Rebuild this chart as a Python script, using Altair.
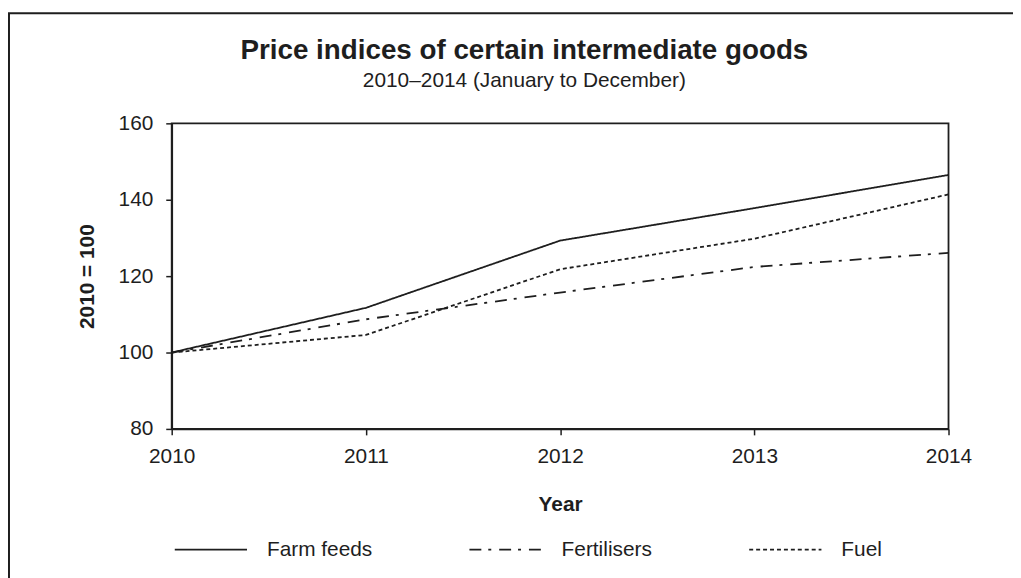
import altair as alt
import pandas as pd

years = [2010, 2011, 2012, 2013, 2014]
farm_feeds = [100, 111.7, 129.3, 137.8, 146.5]
fertilisers = [100, 108.7, 115.7, 122.4, 126.1]
fuel = [100, 104.6, 121.8, 129.8, 141.4]
series = ["Farm feeds", "Fertilisers", "Fuel"]
y_ticks = [80, 100, 120, 140, 160]

rows = []
for name, vals in zip(series, [farm_feeds, fertilisers, fuel]):
    for yr, v in zip(years, vals):
        rows.append({"Year": yr, "Value": v, "Series": name})
df = pd.DataFrame(rows)

FONT = "Liberation Sans"
INK = "#1e1e1e"

lines = alt.Chart(df).mark_line(strokeWidth=1.8, color=INK).encode(
    x=alt.X("Year:Q",
            scale=alt.Scale(domain=[2010, 2014], nice=False, zero=False),
            axis=alt.Axis(values=years, format="d", title="Year",
                          titleY=82, titleBaseline="alphabetic",
                          tickSize=6, labelPadding=11, labelFlush=False)),
    y=alt.Y("Value:Q",
            scale=alt.Scale(domain=[80, 160], nice=False, zero=False),
            axis=alt.Axis(values=y_ticks, title="2010 = 100",
                          titleX=-79, titleBaseline="alphabetic",
                          tickSize=6, labelPadding=13, labelFlush=False)),
    strokeDash=alt.StrokeDash(
        "Series:N",
        scale=alt.Scale(domain=series, range=[[1, 0], [12, 7, 3, 8], [4, 3]]),
        legend=alt.Legend(orient="none", direction="horizontal",
                          legendX=2, legendY=392, title=None,
                          symbolType="stroke", symbolSize=5300,
                          symbolStrokeWidth=1.8, symbolStrokeColor=INK,
                          labelFont=FONT, labelFontSize=21, labelColor=INK,
                          labelOffset=19, columnPadding=93)),
)

frame_df = pd.DataFrame({"k": [0]})
frame_left = alt.Chart(frame_df).mark_rule(color=INK, strokeWidth=2).encode(
    x=alt.value(-164), y=alt.value(-111), y2=alt.value(600))
frame_top = alt.Chart(frame_df).mark_rule(color=INK, strokeWidth=2).encode(
    x=alt.value(-165), x2=alt.value(900), y=alt.value(-111))

chart = alt.layer(frame_left, frame_top, lines).properties(
    width=783, height=308,
    background="white",
    autosize=alt.AutoSizeParams(type="none"),
    padding={"left": 165, "top": 114, "right": 65, "bottom": 148},
    title=alt.TitleParams(
        text="Price indices of certain intermediate goods",
        subtitle="2010–2014 (January to December)",
        font=FONT, fontSize=28, fontWeight="bold", color=INK,
        subtitleFont=FONT, subtitleFontSize=21, subtitleColor=INK,
        anchor="middle", frame="group", dx=-36, offset=-79,
        subtitlePadding=5),
).configure_view(stroke=INK, strokeWidth=1.8).configure_axis(
    grid=False, domainColor=INK, domainWidth=1.8, tickColor=INK,
    tickWidth=1.5, labelFont=FONT, labelFontSize=21, labelColor=INK,
    titleFont=FONT, titleFontSize=21, titleFontWeight="bold",
    titleColor=INK,
)

chart.save("out.html", embed_options={"renderer": "svg", "actions": False})
